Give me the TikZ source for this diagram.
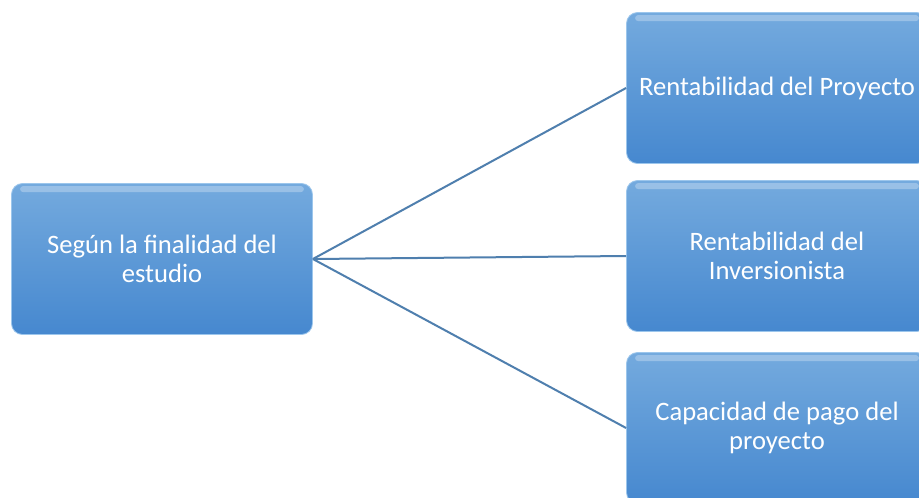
\documentclass[tikz,border=0pt]{standalone}
\usepackage{fontspec}
\setmainfont{Carlito}
\begin{document}
\begin{tikzpicture}[x=1pt,y=-1pt,
  box/.style={rounded corners=11pt, minimum width=301pt, minimum height=151pt,
    draw=boxedge, line width=0.8pt, top color=boxtop, bottom color=boxbot,
    text=white, align=center, font=\fontsize{26.6}{29}\selectfont, inner sep=0pt},
  link/.style={draw=linkcol, line width=2pt}]
\definecolor{boxtop}{HTML}{74AADE}
\definecolor{boxbot}{HTML}{4688CF}
\definecolor{boxedge}{HTML}{9CC6EC}
\definecolor{linkcol}{HTML}{4F7FAE}
\useasboundingbox (0,0) rectangle (919,498);
\clip (0,0) rectangle (919,498);
\fill[white] (0,0) rectangle (919,498);
% root and its three branches
\node[box] (root) at (162,259) {Según la finalidad del\\estudio};
\node[box] (r1) at (777,88) {Rentabilidad del Proyecto};
\node[box] (r2) at (777,256) {Rentabilidad del\\Inversionista};
\node[box] (r3) at (777,428) {Capacidad de pago del\\proyecto};
% glossy highlight along each top edge
\foreach \n in {root,r1,r2,r3}{
  \fill[white,opacity=0.28,rounded corners=3pt]
    ([xshift=9pt,yshift=-3pt]\n.north west) rectangle ([xshift=-9pt,yshift=-9pt]\n.north east);
}
\draw[link] (root.east) -- (r1.west);
\draw[link] (root.east) -- (r2.west);
\draw[link] (root.east) -- (r3.west);
\end{tikzpicture}
\end{document}
